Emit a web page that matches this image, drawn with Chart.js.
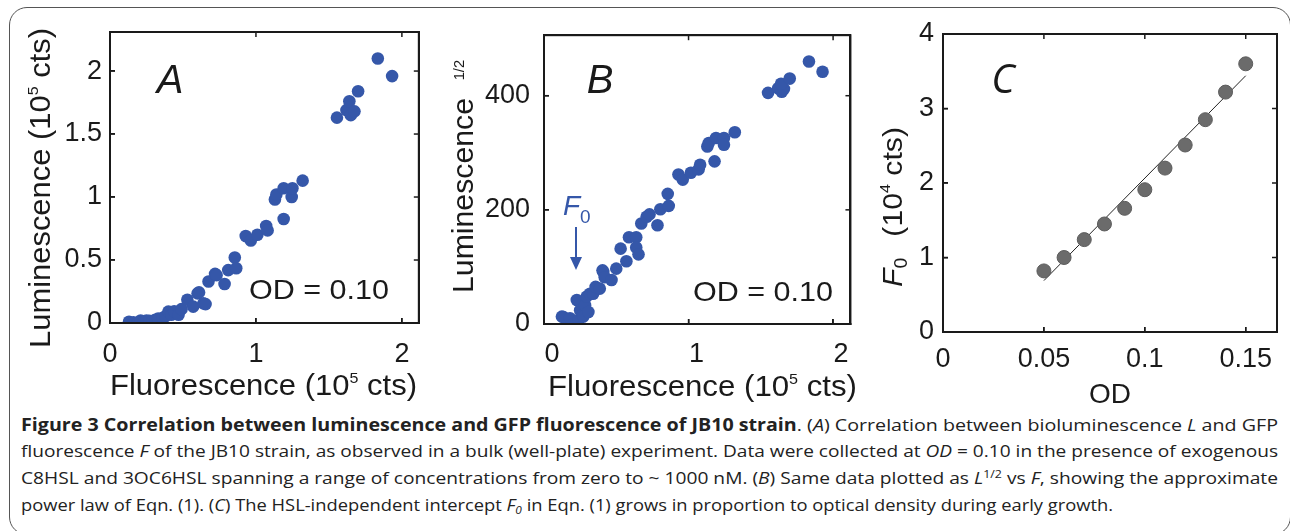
<!DOCTYPE html>
<html>
<head>
<meta charset="utf-8">
<script src="https://cdn.jsdelivr.net/npm/chart.js@4.4.1/dist/chart.umd.min.js"></script>
<style>
  body { margin: 0; background: #fff; width: 1290px; height: 531px; overflow: hidden; position: relative; }
  #frame { position: absolute; left: 9px; top: 7px; width: 1282px; height: 528px; border: 1.5px solid #555; border-radius: 18px; box-sizing: border-box; }
  canvas { position: absolute; top: 0; }
  .plotbox { position: absolute; border: 2px solid #1a1a1a; box-sizing: border-box; pointer-events: none; }
  .cap { position: absolute; left: 21px; white-space: nowrap; font-family: 'Open Sans', sans-serif; font-size: 17px; line-height: 20px; color: #222; transform-origin: 0 0; }
  .cap b { font-weight: 700; }
  .cap sup { font-size: 11px; vertical-align: 6px; line-height: 0; }
  .cap sub { font-size: 11px; vertical-align: -3px; line-height: 0; }
</style>
</head>
<body>
<div id="frame"></div>
<canvas id="chartA" width="430" height="410" style="left:0px"></canvas>
<canvas id="chartB" width="430" height="410" style="left:430px"></canvas>
<canvas id="chartC" width="420" height="410" style="left:870px"></canvas>

<div class="cap" id="cap1" style="top:415px"><b>Figure 3 Correlation between luminescence and GFP fluorescence of JB10 strain</b>. (<i>A</i>) Correlation between bioluminescence <i>L</i> and GFP</div>
<div class="cap" id="cap2" style="top:441px">fluorescence <i>F</i> of the JB10 strain, as observed in a bulk (well-plate) experiment. Data were collected at <i>OD</i> = 0.10 in the presence of exogenous</div>
<div class="cap" id="cap3" style="top:468px">C8HSL and 3OC6HSL spanning a range of concentrations from zero to ~ 1000 nM. (<i>B</i>) Same data plotted as <i>L</i><sup>1/2</sup> vs <i>F</i>, showing the approximate</div>
<div class="cap" id="cap4" style="top:495px">power law of Eqn. (1). (<i>C</i>) The HSL-independent intercept <i>F<sub>0</sub></i> in Eqn. (1) grows in proportion to optical density during early growth.</div>

<script>
// panel A: luminescence vs fluorescence (10^5 cts)
const fluorA = [0.13, 0.16, 0.19, 0.21, 0.23, 0.25, 0.27, 0.29, 0.31, 0.33,
  0.36, 0.38, 0.40, 0.42, 0.44, 0.47, 0.49, 0.53, 0.57, 0.60,
  0.61, 0.64, 0.655, 0.675, 0.72, 0.73, 0.785, 0.81, 0.855, 0.865,
  0.93, 0.965, 1.01, 1.07, 1.08, 1.13, 1.14, 1.19, 1.19, 1.245,
  1.25, 1.32, 1.555, 1.62, 1.64, 1.65, 1.675, 1.70, 1.835, 1.933];
const lumA = [0.01, 0.005, 0.0, 0.02, 0.005, 0.02, 0.018, 0.01, 0.026, 0.035,
  0.04, 0.053, 0.09, 0.066, 0.093, 0.066, 0.11, 0.185, 0.13, 0.235,
  0.243, 0.156, 0.15, 0.33, 0.39, 0.38, 0.31, 0.42, 0.52, 0.435,
  0.69, 0.655, 0.70, 0.77, 0.735, 0.98, 1.02, 1.07, 0.825, 1.0,
  1.07, 1.13, 1.63, 1.69, 1.76, 1.65, 1.68, 1.84, 2.10, 1.96];

// panel B: luminescence^(1/2) vs fluorescence
const fluorB = [0.124, 0.135, 0.18, 0.19, 0.227, 0.238, 0.25, 0.27, 0.272, 0.284,
  0.295, 0.307, 0.318, 0.34, 0.357, 0.386, 0.405, 0.41, 0.42, 0.467,
  0.50, 0.53, 0.57, 0.588, 0.638, 0.638, 0.654, 0.673, 0.71, 0.73,
  0.785, 0.805, 0.856, 0.863, 0.93, 0.96, 1.016, 1.07, 1.08, 1.13,
  1.14, 1.18, 1.19, 1.245, 1.245, 1.32, 1.55, 1.62, 1.645, 1.66,
  1.64, 1.70, 1.833, 1.927];
const rootLumB = [13, 12, 10, -2, 42, 7, 24, 16, 13, 33,
  48, 21, 53, 53, 65, 62, 94, 91, 82, 77,
  97, 132, 110, 152, 152, 134, 122, 176, 188, 192,
  173, 201, 228, 207, 262, 253, 265, 271, 279, 311,
  317, 285, 326, 326, 314, 336, 405, 413, 407, 412,
  421, 430, 460, 442];

// panel C: intercept F0 vs OD
const odC = [0.05, 0.06, 0.07, 0.08, 0.09, 0.10, 0.11, 0.12, 0.13, 0.14, 0.15];
const f0C = [0.82, 1.0, 1.24, 1.45, 1.66, 1.91, 2.2, 2.51, 2.85, 3.22, 3.6];
const fitOD = [0.05, 0.15];
const fitF0 = [0.69, 3.44];

// ticks
const xTicksAB = [0, 1, 2];
const xLabelsAB = ['0', '1', '2'];
const yTicksA = [0, 0.5, 1, 1.5, 2];
const yLabelsA = ['0', '0.5', '1', '1.5', '2'];
const yTicksB = [0, 200, 400];
const yLabelsB = ['0', '200', '400'];
const xTicksC = [0, 0.05, 0.1, 0.15];
const xLabelsC = ['0', '0.05', '0.1', '0.15'];
const yTicksC = [0, 1, 2, 3, 4];
const yLabelsC = ['0', '1', '2', '3', '4'];

const BLUE = '#3557a9';
const GREY = '#6b6b6b';
const INK = '#1a1a1a';
const SANS = "'Liberation Sans', Arial, sans-serif";

function pts(xs, ys) {
  return xs.map((x, i) => ({ x: x, y: ys[i] }));
}

// draw a run of text pieces (italic / sub / superscript), optionally rotated and squeezed to a width
function drawRich(ctx, it, dx) {
  const fontOf = p => (p.i ? 'italic ' : '') + (p.s || it.s) + 'px ' + (it.f || SANS);
  ctx.save();
  ctx.translate(it.x - dx, it.y);
  if (it.rot) ctx.rotate(it.rot);
  let total = 0;
  const ws = it.parts.map(p => {
    ctx.font = fontOf(p);
    const w = ctx.measureText(p.t).width + (p.pre || 0);
    total += w;
    return w;
  });
  if (it.w) ctx.scale(it.w / total, 1);
  let x = it.align === 'left' ? 0 : -total / 2;
  ctx.fillStyle = it.color || INK;
  ctx.textBaseline = 'alphabetic';
  it.parts.forEach((p, i) => {
    ctx.font = fontOf(p);
    ctx.fillText(p.t, x + (p.pre || 0), p.dy || 0);
    x += ws[i];
  });
  ctx.restore();
}

// MATLAB-style closed box with inward tick marks, placed from the chart's own scales
function drawBox(chart, o) {
  const ctx = chart.ctx;
  const a = chart.chartArea;
  const sx = chart.scales.x;
  const sy = chart.scales.y;
  const line = (x1, y1, x2, y2) => { ctx.beginPath(); ctx.moveTo(x1, y1); ctx.lineTo(x2, y2); ctx.stroke(); };
  ctx.save();
  ctx.strokeStyle = INK;
  ctx.lineWidth = 1.5;
  o.xTicks.forEach(v => {
    const px = sx.getPixelForValue(v);
    line(px, a.bottom, px, a.bottom - 5);
    line(px, a.top, px, a.top + 5);
  });
  o.yTicks.forEach(v => {
    const py = sy.getPixelForValue(v);
    line(a.left, py, a.left + 5, py);
    line(a.right, py, a.right - 5, py);
  });
  ctx.lineWidth = 2;
  ctx.strokeRect(a.left, a.top, a.right - a.left, a.bottom - a.top);
  ctx.restore();
}

function makeAxes(o) {
  const grid = { drawOnChartArea: false, tickLength: -5, color: INK, lineWidth: 1.5 };
  const border = { color: INK, width: 2 };
  const tickFont = { family: SANS, size: 27 };
  const setTicks = vals => s => { s.ticks = vals.map(v => ({ value: v })); };
  return {
    x: {
      type: 'linear', position: 'bottom', min: o.xMin, max: o.xMax, grid: grid, border: border,
      afterBuildTicks: setTicks(o.xTicks),
      afterFit: s => { s.height = o.H - o.B; },
      ticks: { font: tickFont, color: INK, padding: o.xPad, labelOffset: o.xOff || 0,
        maxRotation: 0, autoSkip: false, callback: (v, i) => o.xLabels[i] }
    },
    y: {
      type: 'linear', position: 'left', min: o.yMin, max: o.yMax, grid: grid, border: border,
      afterBuildTicks: setTicks(o.yTicks),
      afterFit: s => { s.width = o.L; },
      ticks: { font: tickFont, color: INK, padding: o.yPad, autoSkip: false,
        callback: (v, i) => o.yLabels[i] }
    }
  };
}

function makePanel(id, o) {
  const overlay = {
    id: 'overlay' + id,
    afterDraw(chart) {
      const ctx = chart.ctx;
      drawBox(chart, o);
      o.texts.forEach(t => drawRich(ctx, t, o.left));
      if (o.extra) o.extra(ctx, o.left);
    }
  };
  const chart = new Chart(document.getElementById(id), {
    type: 'scatter',
    data: { datasets: o.datasets },
    options: {
      responsive: false,
      animation: false,
      layout: { padding: { left: 0, top: o.T, right: o.W - o.R, bottom: 0 } },
      scales: makeAxes(o),
      plugins: { legend: { display: false }, tooltip: { enabled: false } }
    },
    plugins: [overlay]
  });
  // outline of the plot area, taken from the chart's computed area
  const a = chart.chartArea;
  const box = document.createElement('div');
  box.className = 'plotbox';
  box.style.left = (o.left + a.left - 1) + 'px';
  box.style.top = (a.top - 1) + 'px';
  box.style.width = (a.right - a.left + 2) + 'px';
  box.style.height = (a.bottom - a.top + 2) + 'px';
  document.body.appendChild(box);
  return chart;
}

makePanel('chartA', {
  left: 0, W: 430, H: 410, L: 110, T: 32, R: 419, B: 323,
  xMin: 0, xMax: 2.116, yMin: 0, yMax: 2.31,
  xTicks: xTicksAB, xLabels: xLabelsAB, yTicks: yTicksA, yLabels: yLabelsA,
  xPad: 20, yPad: 13,
  datasets: [{ data: pts(fluorA, lumA), pointRadius: 6.3, pointBackgroundColor: BLUE, pointBorderWidth: 0 }],
  texts: [
    { parts: [{ t: 'A', i: true }], x: 170, y: 93, s: 40 },
    { parts: [{ t: 'OD = 0.10' }], x: 249, y: 299, s: 28, align: 'left', w: 140 },
    { parts: [{ t: 'Fluorescence (10' }, { t: '5', s: 15, dy: -12 }, { t: ' cts)' }], x: 263.5, y: 395, s: 29, w: 307 },
    { parts: [{ t: 'Luminescence (10' }, { t: '5', s: 15, dy: -12 }, { t: ' cts)' }], x: 50, y: 188, s: 29, w: 320, rot: -Math.PI / 2 }
  ]
});

makePanel('chartB', {
  left: 430, W: 430, H: 410, L: 114, T: 33, R: 423, B: 324,
  xMin: 0, xMax: 2.12, yMin: 0, yMax: 506,
  xTicks: xTicksAB, xLabels: xLabelsAB, yTicks: yTicksB, yLabels: yLabelsB,
  xPad: 19, yPad: 19, xOff: 8,
  datasets: [{ data: pts(fluorB, rootLumB), pointRadius: 6.3, pointBackgroundColor: BLUE, pointBorderWidth: 0 }],
  texts: [
    { parts: [{ t: 'B', i: true }], x: 600, y: 93, s: 40 },
    { parts: [{ t: 'OD = 0.10' }], x: 693, y: 301, s: 28, align: 'left', w: 140 },
    { parts: [{ t: 'Fluorescence (10' }, { t: '5', s: 15, dy: -12 }, { t: ' cts)' }], x: 702.5, y: 396, s: 29, w: 309 },
    { parts: [{ t: 'Luminescence' }, { t: '1/2', s: 14, dy: -9, pre: 17 }], x: 473, y: 176.5, s: 29, w: 233, rot: -Math.PI / 2 },
    { parts: [{ t: 'F', i: true }, { t: '0', s: 19, dy: 8 }], x: 563, y: 215, s: 28, align: 'left', color: BLUE }
  ],
  extra: (ctx, dx) => {
    // F0 arrow
    ctx.save();
    ctx.strokeStyle = BLUE;
    ctx.fillStyle = BLUE;
    ctx.lineWidth = 2;
    ctx.beginPath();
    ctx.moveTo(576 - dx, 227);
    ctx.lineTo(576 - dx, 259);
    ctx.stroke();
    ctx.beginPath();
    ctx.moveTo(570 - dx, 257);
    ctx.lineTo(582 - dx, 257);
    ctx.lineTo(576 - dx, 270);
    ctx.closePath();
    ctx.fill();
    ctx.restore();
  }
});

makePanel('chartC', {
  left: 870, W: 420, H: 410, L: 73, T: 34, R: 407, B: 332,
  xMin: 0, xMax: 0.1655, yMin: 0, yMax: 4,
  xTicks: xTicksC, xLabels: xLabelsC, yTicks: yTicksC, yLabels: yLabelsC,
  xPad: 16, yPad: 14,
  datasets: [
    { data: pts(odC, f0C), pointRadius: 7, pointBackgroundColor: GREY, pointBorderColor: '#5c5c5c', pointBorderWidth: 1 },
    { type: 'line', data: pts(fitOD, fitF0), borderColor: '#222', borderWidth: 1, pointRadius: 0, fill: false }
  ],
  texts: [
    { parts: [{ t: 'C', i: true }], x: 1003, y: 93, s: 40, f: "'Open Sans', sans-serif" },
    { parts: [{ t: 'OD' }], x: 1110, y: 403, s: 28 },
    { parts: [{ t: 'F', i: true }, { t: '0', s: 18, dy: 5 }, { t: '  (10', pre: 4 }, { t: '4', s: 15, dy: -12 }, { t: ' cts)' }],
      x: 902, y: 207, s: 28, w: 160, rot: -Math.PI / 2 }
  ]
});

// squeeze caption lines to the justified width of the figure text
const capWidths = { cap1: 1257, cap2: 1257, cap3: 1257, cap4: 1092 };
Object.keys(capWidths).forEach(id => {
  const el = document.getElementById(id);
  const w = el.getBoundingClientRect().width;
  el.style.transform = 'scaleX(' + (capWidths[id] / w) + ')';
});
</script>
</body>
</html>
